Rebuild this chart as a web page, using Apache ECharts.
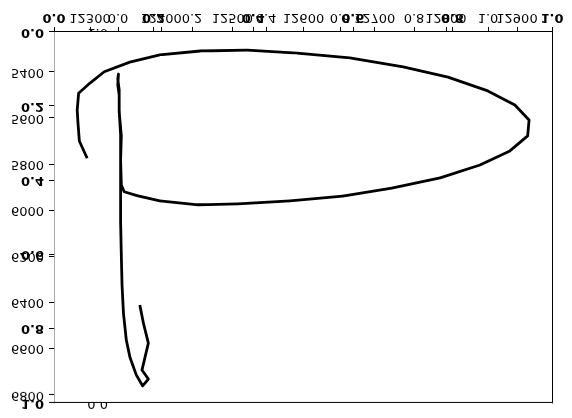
<!DOCTYPE html>
<html>
<head>
<meta charset="utf-8">
<script src="https://cdn.jsdelivr.net/npm/echarts@6/dist/echarts.min.js"></script>
<style>
  html, body { margin: 0; padding: 0; background: #fff; }
  #chart { width: 572px; height: 418px; transform: scaleY(-1); }
</style>
</head>
<body>
<div id="chart"></div>
<script>
// Tick labels
const xTickValues = [12300, 12400, 12500, 12600, 12700, 12800, 12900];
const yTickValues = [5400, 5600, 5800, 6000, 6200, 6400, 6600, 6800];
const unitTickValues = [0, 0.2, 0.4, 0.6, 0.8, 1.0];

// Trajectory (x, y), in drawing order
const trackX = [12370, 12375, 12382, 12373, 12382, 12374, 12365, 12356, 12351, 12347,
  12345, 12344, 12343, 12343, 12343, 12344, 12341, 12341, 12339, 12340,
  12339, 12341, 12341, 12343, 12343, 12344,
  12348, 12366, 12398, 12452, 12508, 12581, 12655, 12724, 12792, 12848,
  12890, 12915, 12917, 12897, 12859, 12803, 12740, 12665, 12591, 12521,
  12455, 12398, 12356, 12320, 12300, 12284, 12282, 12283, 12285, 12296];
const trackY = [6410, 6488, 6575, 6692, 6731, 6761, 6713, 6635, 6562, 6445,
  6323, 6193, 6050, 5881, 5781, 5677, 5573, 5500, 5456, 5409,
  5430, 5478, 5565, 5673, 5781, 5890,
  5919, 5936, 5959, 5976, 5972, 5959, 5938, 5903, 5859, 5803,
  5742, 5677, 5608, 5543, 5482, 5422, 5378, 5339, 5318, 5305,
  5309, 5326, 5357, 5399, 5448, 5492, 5565, 5617, 5699, 5774];

const xRange = [12249.4, 12949.2];
const yRange = [5226.6, 6834.8];

const FONT = 'DejaVu Sans';
const FS = 13;
const unitFmt = v => Number(v).toFixed(1);
const intFmt = v => String(Math.round(v));

const chart = echarts.init(document.getElementById('chart'), null, { renderer: 'canvas' });

const baseLabel = { fontFamily: FONT, fontSize: FS, color: '#000' };
const tick = (len, vals) => {
  const t = { show: true, length: len, lineStyle: { color: '#000', width: 1 } };
  if (vals) t.customValues = vals;
  return t;
};

chart.setOption({
  animation: false,
  backgroundColor: '#fff',
  grid: [
    { left: 54, right: 20, top: 15, bottom: 32, show: true, backgroundColor: '#fff', borderWidth: 0, z: 1 },
    { left: 118, right: 84, top: 15, bottom: 32, show: false, z: 0 }
  ],
  xAxis: [
    { // data x axis
      type: 'value', gridIndex: 0, position: 'bottom', min: xRange[0], max: xRange[1], z: 3,
      axisLine: { show: true, onZero: false, lineStyle: { color: '#000', width: 1 } },
      axisTick: tick(5, xTickValues),
      axisLabel: Object.assign({ customValues: xTickValues, margin: 8, formatter: intFmt }, baseLabel),
      splitLine: { show: false }
    },
    { // bold unit x axis
      type: 'value', gridIndex: 0, position: 'bottom', min: 0, max: 1, interval: 0.2, z: 3,
      axisLine: { show: false, onZero: false },
      axisTick: tick(5),
      axisLabel: Object.assign({ margin: 8, fontWeight: 'bold', formatter: unitFmt }, baseLabel),
      splitLine: { show: false }
    },
    { // top spine
      type: 'value', gridIndex: 0, position: 'top', min: 0, max: 1, z: 3,
      axisLine: { show: true, onZero: false, lineStyle: { color: '#000', width: 1 } },
      axisTick: { show: false }, axisLabel: { show: false }, splitLine: { show: false }
    },
    { // light unit x axis (behind)
      type: 'value', gridIndex: 1, position: 'bottom', min: 0, max: 1, interval: 0.2, z: 0,
      axisLine: { show: false, onZero: false },
      axisTick: tick(5),
      axisLabel: Object.assign({ margin: 8, formatter: unitFmt }, baseLabel),
      splitLine: { show: false }
    }
  ],
  yAxis: [
    { // data y axis
      type: 'value', gridIndex: 0, position: 'left', min: yRange[0], max: yRange[1], z: 3,
      axisLine: { show: true, onZero: false, lineStyle: { color: '#aaaaaa', width: 1 } },
      axisTick: tick(5, yTickValues),
      axisLabel: Object.assign({ customValues: yTickValues, margin: 10, formatter: intFmt }, baseLabel),
      splitLine: { show: false }
    },
    { // bold unit y axis
      type: 'value', gridIndex: 0, position: 'left', min: 0, max: 1, interval: 0.2, z: 3,
      axisLine: { show: false, onZero: false },
      axisTick: tick(5),
      axisLabel: Object.assign({ margin: 10, fontWeight: 'bold', formatter: unitFmt }, baseLabel),
      splitLine: { show: false }
    },
    { // right spine
      type: 'value', gridIndex: 0, position: 'right', min: 0, max: 1, z: 3,
      axisLine: { show: true, onZero: false, lineStyle: { color: '#000', width: 1 } },
      axisTick: { show: false }, axisLabel: { show: false }, splitLine: { show: false }
    },
    { // light unit y axis (behind, inverted)
      type: 'value', gridIndex: 1, position: 'left', min: 0, max: 1, interval: 0.2, inverse: true, z: 0,
      axisLine: { show: false, onZero: false },
      axisTick: { show: false },
      axisLabel: Object.assign({ margin: 10, formatter: unitFmt }, baseLabel),
      splitLine: { show: false }
    }
  ],
  series: [{
    type: 'line',
    xAxisIndex: 0,
    yAxisIndex: 0,
    z: 5,
    data: trackX.map((x, i) => [x, trackY[i]]),
    showSymbol: false,
    symbol: 'none',
    lineStyle: { color: '#000', width: 2.8, join: 'round' },
    clip: true
  }]
});
</script>
</body>
</html>
